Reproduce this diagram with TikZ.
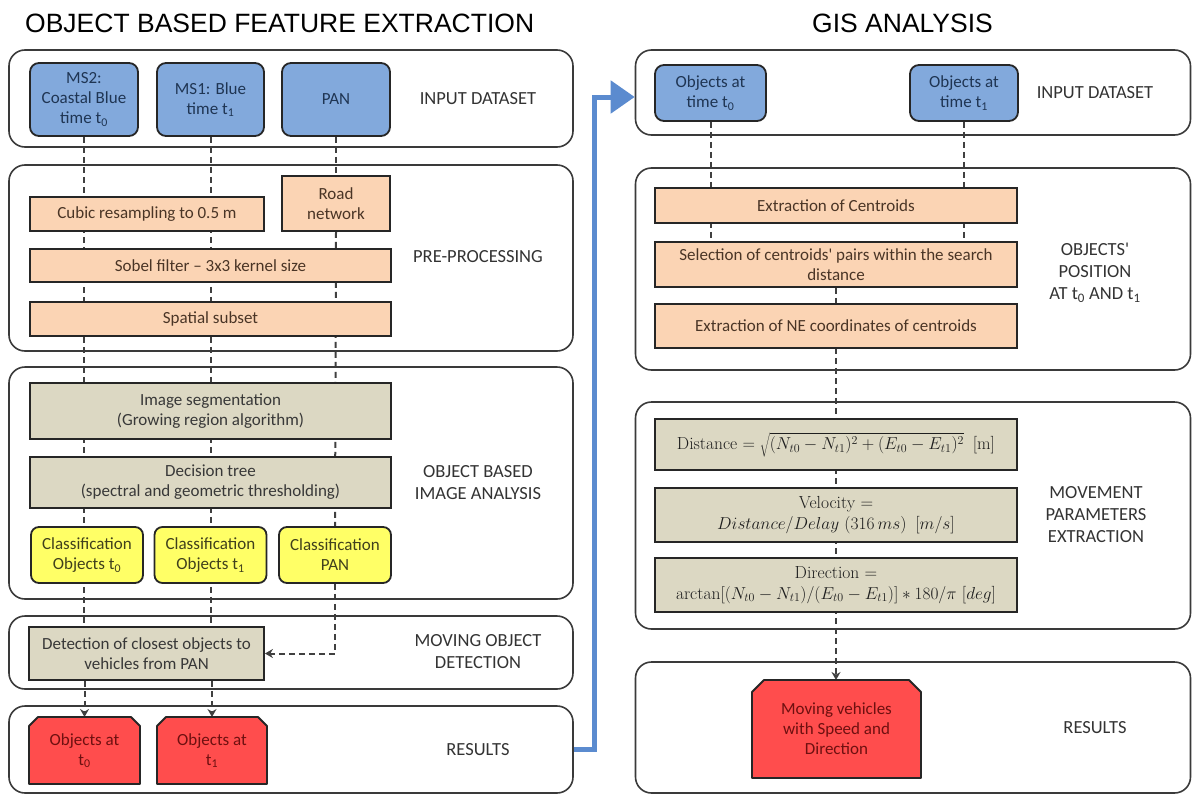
\documentclass[tikz,border=0pt]{standalone}
\usepackage{fontspec}
\usetikzlibrary{arrows.meta,calc,backgrounds}
\newfontfamily\carl{Carlito}
\newfontfamily\arialf{Liberation Sans}
\newcommand\tsub[1]{\textsubscript{#1}}
\definecolor{panelc}{HTML}{3A3A3A}
\definecolor{boxline}{HTML}{262626}
\definecolor{bluef}{HTML}{82A9DC}
\definecolor{bluet}{HTML}{1F3553}
\definecolor{orangef}{HTML}{FBD4B4}
\definecolor{orangt}{HTML}{4A3526}
\definecolor{tanf}{HTML}{DCD8C3}
\definecolor{tant}{HTML}{383838}
\definecolor{formt}{HTML}{1E1E1E}
\definecolor{yelf}{HTML}{FFFF66}
\definecolor{yelt}{HTML}{40401C}
\definecolor{redf}{HTML}{FF4D4D}
\definecolor{redt}{HTML}{6E1010}
\definecolor{labc}{HTML}{333333}
\definecolor{dlc}{HTML}{404040}
\definecolor{bluea}{HTML}{5B8BCF}
\tikzset{
  panel/.style={draw=panelc, line width=1.6pt, rounded corners=16pt, inner sep=0pt},
  box/.style={draw=boxline, line width=1.8pt, inner sep=2pt, align=center, font=\carl\fontsize{17}{20}\selectfont},
  bluebox/.style={box, fill=bluef, rounded corners=9pt, text=bluet},
  orng/.style={box, fill=orangef, text=orangt},
  tanbox/.style={box, fill=tanf, text=tant},
  formbox/.style={tanbox, text=formt, font=\fontsize{17.5}{21}\selectfont},
  yel/.style={box, fill=yelf, rounded corners=8pt, text=yelt},
  redn/.style={box, draw=none, outer sep=0pt, text=redt},
  redpoly/.style={fill=redf, draw=boxline, line width=1.8pt, line join=round},
  lab/.style={align=center, font=\carl\fontsize{18.5}{22}\selectfont, text=labc},
  ttl/.style={anchor=base west, inner sep=0pt, font=\arialf\fontsize{26.5}{30}\selectfont},
  dl/.style={draw=dlc, line width=2pt, dash pattern=on 6pt off 4pt},
  arr/.style={dl, -{Stealth[length=8pt,width=9pt]}},
  bigarrow/.style={draw=bluea, line width=5pt, -{Triangle[length=24pt,width=32pt]}},
}
\begin{document}
\begin{tikzpicture}[x=1pt,y=-1pt]
\useasboundingbox (0,0) rectangle (1193,795);
% titles
\node[ttl] (t1) at (25,32) {OBJECT BASED FEATURE EXTRACTION};
\node[ttl] (t2) at (812,32) {GIS ANALYSIS};
% left panels
\node[panel, minimum width=564pt, minimum height=97pt] (pin) at (291,98.5) {};
\node[panel, minimum width=564pt, minimum height=186pt] (ppp) at (291,258) {};
\node[panel, minimum width=564pt, minimum height=232pt] (pobia) at (291,483) {};
\node[panel, minimum width=564pt, minimum height=73pt] (pmod) at (291,652.5) {};
\node[panel, minimum width=564pt, minimum height=87pt] (pres) at (291,749.5) {};
% right panels
\node[panel, minimum width=555pt, minimum height=85pt] (rin) at (913,92.5) {};
\node[panel, minimum width=555pt, minimum height=202pt] (rop) at (913,269) {};
\node[panel, minimum width=555pt, minimum height=227pt] (rmpe) at (913,515.5) {};
\node[panel, minimum width=555pt, minimum height=131pt] (rres) at (913,727.5) {};
% left labels
\node[lab] (l1) at (478,99) {INPUT DATASET};
\node[lab] (l2) at (478,257) {PRE-PROCESSING};
\node[lab] (l3) at (478,483) {OBJECT BASED\\IMAGE ANALYSIS};
\node[lab] (l4) at (478,652) {MOVING OBJECT\\DETECTION};
\node[lab] (l5) at (478,750) {RESULTS};
% right labels
\node[lab] (r1) at (1095,93) {INPUT DATASET};
\node[lab] (r2) at (1095,273) {OBJECTS'\\POSITION\\AT t\tsub{0} AND t\tsub{1}};
\node[lab] (r3) at (1096,515) {MOVEMENT\\PARAMETERS\\EXTRACTION};
\node[lab] (r4) at (1095,728) {RESULTS};
% left boxes
\node[bluebox, minimum width=108pt, minimum height=73pt] (ms2) at (84,99.5) {MS2:\\Coastal Blue\\time t\tsub{0}};
\node[bluebox, minimum width=107pt, minimum height=73pt] (ms1) at (210.5,99.5) {MS1: Blue\\time t\tsub{1}};
\node[bluebox, minimum width=108pt, minimum height=73pt] (pan) at (336,99.5) {PAN};
\node[orng, minimum width=108pt, minimum height=55pt] (road) at (336,203.5) {Road\\network};
\node[orng, minimum width=234pt, minimum height=34pt] (cubic) at (147,214) {Cubic resampling to 0.5 m};
\node[orng, minimum width=361pt, minimum height=33pt] (sobel) at (210.5,265.5) {Sobel filter – 3x3 kernel size};
\node[orng, minimum width=361pt, minimum height=34pt] (spatial) at (210.5,319) {Spatial subset};
\node[tanbox, minimum width=361pt, minimum height=56pt] (imgseg) at (210.5,411) {Image segmentation\\(Growing region algorithm)};
\node[tanbox, minimum width=361pt, minimum height=51pt] (dtree) at (210.5,482.5) {Decision tree\\(spectral and geometric thresholding)};
\node[yel, minimum width=112pt, minimum height=56pt] (cls0) at (87,555) {Classification\\Objects t\tsub{0}};
\node[yel, minimum width=112pt, minimum height=56pt] (cls1) at (210.5,555) {Classification\\Objects t\tsub{1}};
\node[yel, minimum width=112pt, minimum height=56pt] (cls2) at (335,555) {Classification\\PAN};
\node[tanbox, minimum width=235pt, minimum height=53pt] (detect) at (146.5,653.5) {Detection of closest objects to\\vehicles from PAN};
\node[redn, minimum width=111pt, minimum height=67pt] (red0) at (84.5,750.5) {Objects at\\t\tsub{0}};
\node[redn, minimum width=110pt, minimum height=67pt] (red1) at (212,750.5) {Objects at\\t\tsub{1}};
% right boxes
\node[bluebox, minimum width=111pt, minimum height=56pt] (ot0) at (710.5,93) {Objects at\\time t\tsub{0}};
\node[bluebox, minimum width=108pt, minimum height=56pt] (ot1) at (964,93) {Objects at\\time t\tsub{1}};
\node[orng, minimum width=362pt, minimum height=35pt] (cent) at (836,205.5) {Extraction of Centroids};
\node[orng, minimum width=362pt, minimum height=45pt] (sel) at (836,264.5) {Selection of centroids' pairs within the search\\distance};
\node[orng, minimum width=362pt, minimum height=44pt] (ne) at (836,326) {Extraction of NE coordinates of centroids};
\node[formbox, minimum width=362pt, minimum height=51pt] (dist) at (836,444.5) {Distance $=\sqrt{(N_{t0}-N_{t1})^2+(E_{t0}-E_{t1})^2}$\enspace[m]};
\node[formbox, minimum width=362pt, minimum height=54pt] (vel) at (836,515) {Velocity =\\$Distance/Delay$ (316\,$ms$)\enspace[$m/s$]};
\node[formbox, minimum width=362pt, minimum height=54pt] (dir) at (836,585) {Direction =\\arctan$[(N_{t0}-N_{t1})/(E_{t0}-E_{t1})]\ast180/\pi$ [$deg$]};
\node[redn, minimum width=169pt, minimum height=98pt] (mv) at (836.5,729) {Moving vehicles\\with Speed and\\Direction};
% connectors and red shapes behind
\begin{scope}[on background layer]
\draw[dl] (ms2.south) -- (ms2.south |- detect.north);
\draw[dl] (ms1.south) -- (ms1.south |- detect.north);
\draw[dl] (pan.south) -- (road.north);
\draw[dl] (road.south) -- (cls2.north);
\draw[arr] (cls2.south) |- (detect.east);
\draw[arr] (red0.north |- detect.south) -- (red0.north);
\draw[arr] (red1.north |- detect.south) -- (red1.north);
\draw[dl] (ot0.south) -- (ot0.south |- sel.north);
\draw[dl] (ot1.south) -- (ot1.south |- sel.north);
\draw[arr] (sel.south) -- (sel.south |- mv.north);
\filldraw[redpoly] (red0.south west) -- ($(red0.north west)+(0,9)$) -- ($(red0.north west)+(9,0)$) -- ($(red0.north east)+(-9,0)$) -- ($(red0.north east)+(0,9)$) -- (red0.south east) -- cycle;
\filldraw[redpoly] (red1.south west) -- ($(red1.north west)+(0,9)$) -- ($(red1.north west)+(9,0)$) -- ($(red1.north east)+(-9,0)$) -- ($(red1.north east)+(0,9)$) -- (red1.south east) -- cycle;
\filldraw[redpoly] (mv.south west) -- ($(mv.north west)+(0,12)$) -- ($(mv.north west)+(12,0)$) -- ($(mv.north east)+(-12,0)$) -- ($(mv.north east)+(0,12)$) -- (mv.south east) -- cycle;
\end{scope}
% big blue arrow
\coordinate (bl1) at (594,745);
\coordinate (bl2) at (594,97);
\draw[bigarrow] (pres.east) -- (bl1 |- pres.east) -- (bl2) -- (rin.west |- bl2);
\end{tikzpicture}
\end{document}
